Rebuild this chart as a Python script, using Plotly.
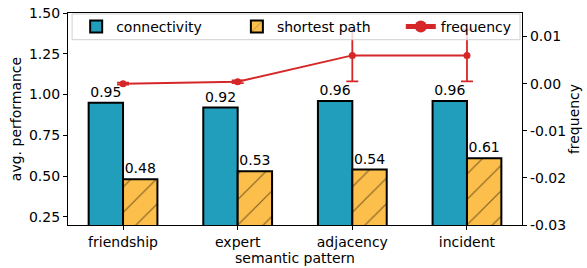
import plotly.graph_objects as go

categories = ["friendship", "expert", "adjacency", "incident"]
connectivity = [0.95, 0.92, 0.96, 0.96]
shortest_path = [0.48, 0.53, 0.54, 0.61]
frequency = [0.0000, 0.0004, 0.0060, 0.0060]
freq_err = [0.0002, 0.0003, 0.0055, 0.0055]
left_ticks = [0.25, 0.50, 0.75, 1.00, 1.25, 1.50]
right_ticks = [0.01, 0.00, -0.01, -0.02, -0.03]

xs = list(range(len(categories)))
w = 0.3
font = "DejaVu Sans"
fs = 14

fig = go.Figure()
fig.add_trace(go.Bar(
    x=[x - w / 2 for x in xs], y=connectivity, width=w, name="connectivity",
    marker=dict(color="#219EBC", line=dict(color="black", width=2)),
    text=[f"{v:.2f}" for v in connectivity], textposition="outside",
    textfont=dict(size=fs, color="black", family=font), cliponaxis=False,
    legend="legend",
))
fig.add_trace(go.Bar(
    x=[x + w / 2 for x in xs], y=shortest_path, width=w, name="shortest path",
    marker=dict(color="#FDBF4B", line=dict(color="black", width=2),
                pattern=dict(shape="/", fgcolor="black", size=18, solidity=0.065)),
    text=[f"{v:.2f}" for v in shortest_path], textposition="outside",
    textfont=dict(size=fs, color="black", family=font), cliponaxis=False,
    legend="legend2",
))
fig.add_trace(go.Scatter(
    x=xs, y=frequency, yaxis="y2", name="frequency", mode="lines+markers",
    line=dict(color="#D62728", width=2), marker=dict(color="#D62728", size=7),
    error_y=dict(type="data", array=freq_err, color="#D62728", thickness=1.8, width=6),
    legend="legend3",
))

axis_common = dict(showgrid=False, zeroline=False, showline=True, linecolor="black",
                   linewidth=1.2, ticks="outside", ticklen=4, tickcolor="black",
                   automargin=False, ticklabeloverflow="allow",
                   tickfont=dict(size=fs, family=font, color="black"))

leg_common = dict(orientation="h", xanchor="left", yanchor="middle", y=0.934,
                  bgcolor="rgba(0,0,0,0)", borderwidth=0,
                  font=dict(size=fs, family=font, color="black"), itemsizing="constant")

fig.update_layout(
    width=587, height=268,
    margin=dict(l=68, r=65, t=11, b=43),
    paper_bgcolor="white", plot_bgcolor="white",
    font=dict(family=font, size=fs, color="black"),
    barmode="overlay",
    showlegend=True,
    legend=dict(x=0.018, **leg_common),
    legend2=dict(x=0.372, **leg_common),
    legend3=dict(x=0.733, **leg_common),
    shapes=[dict(type="rect", xref="paper", yref="paper", x0=0.009, x1=0.9956,
                 y0=0.874, y1=0.9953, fillcolor="rgba(255,255,255,0.8)",
                 line=dict(color="#d0d0d0", width=1), layer="above")],
    xaxis=dict(range=[-0.48, 3.48], tickmode="array", tickvals=xs, ticktext=categories,
               mirror=True, title=dict(text="semantic pattern", standoff=0,
                                       font=dict(size=fs)), **axis_common),
    yaxis=dict(range=[0.2, 1.5002], tickmode="array", tickvals=left_ticks,
               ticktext=[f"{v:.2f}" for v in left_ticks],
               title=dict(text="avg. performance", standoff=4, font=dict(size=fs)),
               **axis_common),
    yaxis2=dict(range=[-0.03, 0.015], overlaying="y", side="right", tickmode="array",
                tickvals=right_ticks, ticktext=[f"{v:.2f}" for v in right_ticks],
                title=dict(text="frequency", standoff=2, font=dict(size=fs)),
                **axis_common),
)

fig.write_html("out.html", config={"displayModeBar": False},
               post_script="document.body.style.margin='0';document.body.style.overflow='hidden';")
